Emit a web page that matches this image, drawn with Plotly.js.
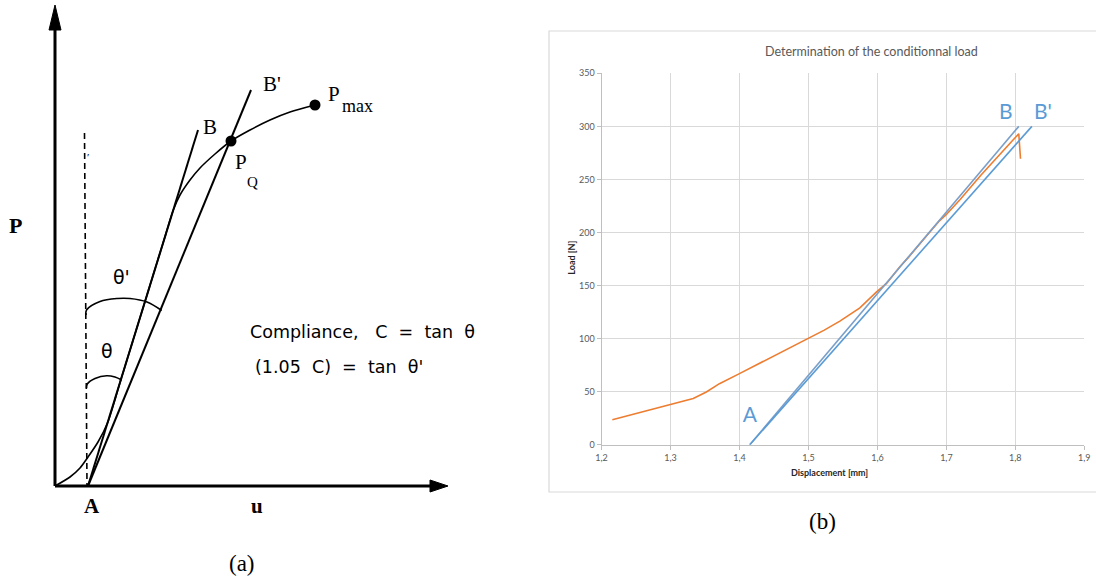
<!DOCTYPE html>
<html>
<head>
<meta charset="utf-8">
<script src="https://cdn.plot.ly/plotly-3.0.1.min.js"></script>
<style>html,body{margin:0;padding:0;background:#fff;}#chart{width:1096px;height:584px;}</style>
</head>
<body>
<div id="chart"></div>
<script>
// ---------- Panel (b): measured load–displacement curve ----------
const dispMeasured = [1.2157, 1.26, 1.30, 1.333, 1.352, 1.371, 1.40, 1.427, 1.457, 1.477, 1.50, 1.523, 1.5456, 1.5746, 1.5988, 1.6133, 1.6326, 1.645, 1.669, 1.69, 1.70, 1.72, 1.75, 1.78, 1.795, 1.805, 1.806, 1.8075];
const loadMeasured = [23.6, 31, 37.7, 43.5, 49.7, 57.5, 67, 76, 86, 92.8, 100.5, 108, 116.5, 129, 144, 152, 167.7, 176.5, 195, 211, 217, 231, 254, 276, 286, 293, 282, 269.5];
const dispLineB = [1.415, 1.805];
const loadLineB = [0, 300];
const dispLineB2 = [1.415, 1.824];
const loadLineB2 = [0, 300];
const xTickVals = [1.2, 1.3, 1.4, 1.5, 1.6, 1.7, 1.8, 1.9];
const yTickVals = [0, 50, 100, 150, 200, 250, 300, 350];
const pointNames = ['A', 'B', "B'"];
const pointDisp = [1.415, 1.786, 1.840];
const pointLoad = [26.4, 312, 312];

// ---------- Panel (a): schematic (diagram units, u right, P up) ----------
const curveU = [0, 15, 25, 33, 43, 52.5, 65.8, 81.2, 96.6, 109, 118.3, 125, 135, 145, 160, 176, 195, 215, 235, 260];
const curveP = [0, 9, 18, 29, 44, 63, 106, 156, 206, 246, 276, 291, 306, 318, 332, 345, 356, 366, 374, 381];
const lineABu = [33, 143];
const lineABp = [0, 356];
const lineAB2u = [33, 196];
const lineAB2p = [0, 396];
const dashU = [29.5, 32];
const dashP = [353, 0];
const axisVu = [0, 0];
const axisVp = [0, 462];
const axisHu = [0, 378];
const axisHp = [0, 0];
const arrowVu = [-6, 6, 0, -6];
const arrowVp = [456, 456, 481, 456];
const arrowHu = [375, 375, 393, 375];
const arrowHp = [-6, 6, 0, -6];
const arcThetaPu = [31, 31.5, 45, 62, 75, 92, 106.7];
const arcThetaPp = [171, 176, 184.5, 187.5, 187.5, 184, 175.5];
const arcThetaU = [31.5, 32.3, 40, 51.7, 60, 66.7];
const arcThetaP = [98, 102, 107.5, 110.3, 109, 106];
const dotU = [176, 260];
const dotP = [345, 381];

const black = '#000';
const traces = [];

// Panel (a) traces
function aLine(u, p, extra) {
  return Object.assign({type: 'scatter', mode: 'lines', x: u, y: p, xaxis: 'x2', yaxis: 'y2',
    line: {color: black, width: 2}, hoverinfo: 'skip', showlegend: false}, extra || {});
}
traces.push(aLine(axisVu, axisVp, {line: {color: black, width: 3}}));
traces.push(aLine(axisHu, axisHp, {line: {color: black, width: 3}}));
traces.push(aLine(arrowVu, arrowVp, {fill: 'toself', fillcolor: black, line: {color: black, width: 1}}));
traces.push(aLine(arrowHu, arrowHp, {fill: 'toself', fillcolor: black, line: {color: black, width: 1}}));
traces.push(aLine(dashU, dashP, {line: {color: black, width: 1.6, dash: '6px,4px'}}));
traces.push(aLine(lineABu, lineABp, {line: {color: black, width: 2}}));
traces.push(aLine(lineAB2u, lineAB2p, {line: {color: black, width: 2}}));
traces.push(aLine(curveU, curveP, {line: {color: black, width: 1.6, shape: 'spline', smoothing: 0.8}}));
traces.push(aLine(arcThetaPu, arcThetaPp, {line: {color: black, width: 1.6, shape: 'spline'}}));
traces.push(aLine(arcThetaU, arcThetaP, {line: {color: black, width: 1.6, shape: 'spline'}}));
traces.push({type: 'scatter', mode: 'markers', x: dotU, y: dotP, xaxis: 'x2', yaxis: 'y2',
  marker: {color: black, size: 11}, hoverinfo: 'skip', showlegend: false});

// Panel (b) traces
traces.push({type: 'scatter', mode: 'lines', x: dispMeasured, y: loadMeasured,
  line: {color: '#ED7D31', width: 1.6}, hoverinfo: 'skip', showlegend: false});
traces.push({type: 'scatter', mode: 'lines', x: dispLineB, y: loadLineB,
  line: {color: '#7a9fc9', width: 1.6}, hoverinfo: 'skip', showlegend: false});
traces.push({type: 'scatter', mode: 'lines', x: dispLineB2, y: loadLineB2,
  line: {color: '#5B9BD5', width: 1.6}, hoverinfo: 'skip', showlegend: false});
traces.push({type: 'scatter', mode: 'text', x: pointDisp, y: pointLoad, text: pointNames,
  textposition: 'middle center', cliponaxis: false,
  textfont: {family: 'Lato, "Open Sans", sans-serif', size: 21, color: '#5B9BD5'},
  hoverinfo: 'skip', showlegend: false});

const serif = '"Liberation Serif", "DejaVu Serif", serif';
const sans = '"DejaVu Sans", "Liberation Sans", sans-serif';
function aText(u, p, t, font, extra) {
  return Object.assign({xref: 'x2', yref: 'y2', x: u, y: p, text: t, showarrow: false,
    font: font, xanchor: 'center', yanchor: 'middle'}, extra || {});
}
const bold20 = {family: serif, size: 21, color: black, weight: 'bold'};
const annotations = [
  aText(-40, 261, '<b>P</b>', {family: serif, size: 22, color: black}),
  aText(36.7, -20, '<b>A</b>', bold20),
  aText(201.7, -20, '<b>u</b>', bold20),
  aText(155, 359, 'B', {family: serif, size: 21, color: black}),
  aText(217, 402, "B'", {family: serif, size: 21, color: black}),
  aText(279, 392, 'P', {family: serif, size: 21, color: black}),
  aText(302, 380, 'max', {family: serif, size: 18, color: black}),
  aText(186, 324, 'P', {family: serif, size: 21, color: black}),
  aText(197.5, 304, 'Q', {family: serif, size: 15, color: black}),
  aText(32.5, 329, '′', {family: serif, size: 11, color: black}),
  aText(66.7, 209.5, "θ'", {family: sans, size: 19, color: black}),
  aText(51.7, 135.3, 'θ', {family: sans, size: 19, color: black}),
  aText(193, 154, 'Compliance,\u00a0\u00a0\u00a0C\u00a0\u00a0=\u00a0\u00a0tan\u00a0\u00a0θ', {family: sans, size: 17.5, color: black}, {xanchor: 'left'}),
  aText(198, 119, '(1.05\u00a0\u00a0C)\u00a0\u00a0=\u00a0\u00a0tan\u00a0\u00a0θ\'', {family: sans, size: 17.5, color: black}, {xanchor: 'left'}),
  {xref: 'paper', yref: 'paper', x: 242 / 1096, y: 1 - 563 / 584, text: '(a)', showarrow: false,
    font: {family: serif, size: 23, color: black}, xanchor: 'center', yanchor: 'middle'},
  {xref: 'paper', yref: 'paper', x: 822 / 1096, y: 1 - 521 / 584, text: '(b)', showarrow: false,
    font: {family: serif, size: 23, color: black}, xanchor: 'center', yanchor: 'middle'},
  // Panel (b) titles
  {xref: 'paper', yref: 'paper', x: 871.7 / 1096, y: 1 - 51.7 / 584, text: 'Determination of the conditionnal load', showarrow: false,
    font: {family: 'Lato, "Open Sans", sans-serif', size: 12.5, color: '#595959'}, xanchor: 'center', yanchor: 'middle'},
  {xref: 'paper', yref: 'paper', x: 829 / 1096, y: 1 - 472.3 / 584, text: '<b>Displacement [mm]</b>', showarrow: false,
    font: {family: 'Lato, "Open Sans", sans-serif', size: 9, color: '#262626'}, xanchor: 'center', yanchor: 'middle'},
  {xref: 'paper', yref: 'paper', x: 570.7 / 1096, y: 1 - 258 / 584, text: '<b>Load [N]</b>', showarrow: false, textangle: -90,
    font: {family: 'Lato, "Open Sans", sans-serif', size: 9, color: '#262626'}, xanchor: 'center', yanchor: 'middle'}
];

const gridCol = '#d9d9d9';
const tickFont = {family: 'Lato, "Open Sans", sans-serif', size: 9, color: '#595959'};
const layout = {
  width: 1096, height: 584,
  margin: {l: 0, r: 0, t: 0, b: 0},
  paper_bgcolor: '#fff', plot_bgcolor: 'rgba(0,0,0,0)',
  separators: ', ',
  showlegend: false,
  xaxis: {domain: [601.5 / 1096, 1084.3 / 1096], range: [1.2, 1.9], tickvals: xTickVals, tickformat: '.1f',
    showgrid: true, gridcolor: gridCol, gridwidth: 1, zeroline: false,
    showline: true, linecolor: '#bfbfbf', linewidth: 1, ticks: 'outside', ticklen: 4, tickcolor: '#bfbfbf',
    tickfont: tickFont, anchor: 'y', fixedrange: true},
  yaxis: {domain: [(584 - 444.7) / 584, (584 - 73.3) / 584], range: [0, 350], tickvals: yTickVals,
    showgrid: true, gridcolor: gridCol, gridwidth: 1, zeroline: false,
    showline: true, linecolor: '#bfbfbf', linewidth: 1, ticks: 'outside', ticklen: 4, tickcolor: '#bfbfbf',
    tickfont: tickFont, anchor: 'x', fixedrange: true},
  xaxis2: {domain: [0, 0.5], range: [-55, 493], visible: false, anchor: 'y2', fixedrange: true},
  yaxis2: {domain: [0, 1], range: [-98, 486], visible: false, anchor: 'x2', fixedrange: true},
  shapes: [
    {type: 'rect', xref: 'paper', yref: 'paper', x0: 549 / 1096, x1: 1.02, y0: 1 - 492 / 584, y1: 1 - 31 / 584,
      line: {color: '#d9d9d9', width: 1.2}, fillcolor: 'rgba(0,0,0,0)', layer: 'below'}
  ],
  annotations: annotations
};
Plotly.newPlot('chart', traces, layout, {staticPlot: true, displayModeBar: false});
</script>
</body>
</html>
